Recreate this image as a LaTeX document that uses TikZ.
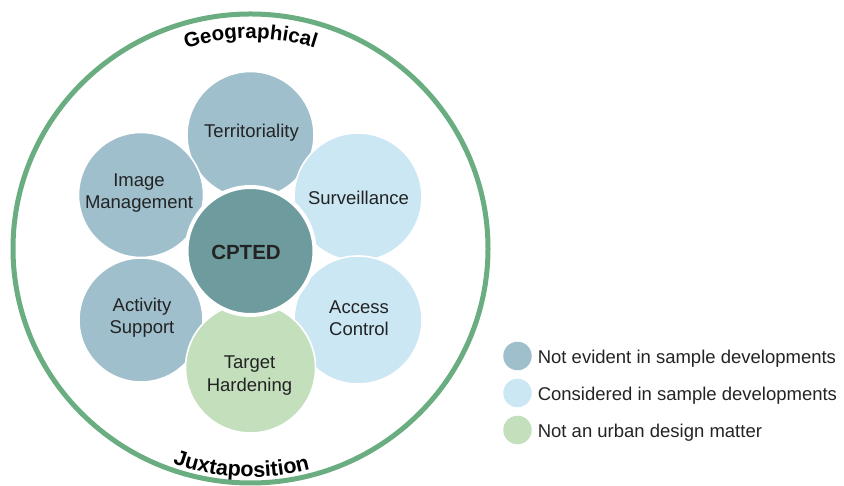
\documentclass[tikz,border=0pt]{standalone}
\usepackage{fontspec}
\setmainfont{Liberation Sans}
\usetikzlibrary{decorations.text}

\definecolor{ringgreen}{HTML}{6AAD80}
\definecolor{notevident}{HTML}{9FBFCC}
\definecolor{considered}{HTML}{CBE7F4}
\definecolor{notudm}{HTML}{C3DFBC}
\definecolor{cptedfill}{HTML}{6E9C9E}
\definecolor{inktext}{HTML}{232323}

\newcommand\arcfont{\fontsize{20.5}{24}\selectfont\bfseries}
\newcommand\arcfontlow{\fontsize{21.5}{25}\selectfont\bfseries}

\tikzset{
  petal/.style={circle, draw=white, line width=1.6pt, inner sep=0pt, minimum size=#1},
  petaltext/.style={text=inktext, align=center, inner sep=0pt,
    font=\fontsize{18.5}{22.3}\selectfont},
  hub/.style={circle, draw=white, line width=4pt, fill=cptedfill, inner sep=0pt, minimum size=128pt},
  hubtext/.style={text=inktext, inner sep=0pt, font=\fontsize{20.5}{24}\selectfont\bfseries},
  keydot/.style={circle, inner sep=0pt, minimum size=28.5pt},
  keytext/.style={text=inktext, inner sep=0pt, anchor=base west,
    font=\fontsize{18.5}{22}\selectfont},
  ringline/.style={draw=ringgreen, line width=5pt},
}

\begin{document}
\begin{tikzpicture}[x=1pt, y=1pt]
  \useasboundingbox (0,0) rectangle (844,486);

  % outer ring
  \coordinate (ctr) at (250.5,237.5);
  \draw[ringline] (ctr) ellipse [x radius=237.5, y radius=234.5];

  % curved labels on the ring
  \path[decorate, decoration={text along path, text align=center,
      text={|\arcfont|Geographical}}]
    (ctr) ++(135:210) arc[start angle=135, end angle=45, radius=210];
  \path[decorate, decoration={text along path, text align=center,
      text={|\arcfontlow|Juxtaposition}}]
    (ctr) ++(222.6:228.5) arc[start angle=222.6, end angle=312.6, radius=228.5];

  % petals around the hub
  \node[petal=127pt, fill=notevident] (terr) at (250.5,351) {};
  \node[petal=125pt, fill=notevident] (image) at (141,291) {};
  \node[petal=128pt, fill=considered] (surv) at (358,289) {};
  \node[petal=124pt, fill=notevident] (activity) at (141,166) {};
  \node[petal=128pt, fill=considered] (access) at (358,166) {};
  \node[petal=130pt, fill=notudm] (target) at (250.5,118) {};

  % hub
  \node[hub] (cpted) at (250.5,235) {};

  % petal labels
  \node[petaltext] (terr-t) at (251.5,353.6) {Territoriality};
  \node[petaltext] (image-t) at (139,292.8) {Image\\Management};
  \node[petaltext] (surv-t) at (358.5,288.6) {Surveillance};
  \node[petaltext] (activity-t) at (142,168.5) {Activity\\Support};
  \node[petaltext] (access-t) at (359,168.1) {Access\\Control};
  \node[petaltext] (target-t) at (249.5,110.5) {Target\\Hardening};
  \node[hubtext] (cpted-t) at (246,233.4) {CPTED};

  % legend
  \node[keydot, fill=notevident] (key1) at (517.5,130) {};
  \node[keydot, fill=considered] (key2) at (517.5,93) {};
  \node[keydot, fill=notudm] (key3) at (517.5,56) {};
  \node[keytext] (key1-t) at (537.6,122.7) {Not evident in sample developments};
  \node[keytext] (key2-t) at (537.6,85) {Considered in sample developments};
  \node[keytext] (key3-t) at (537.6,48.7) {Not an urban design matter};
\end{tikzpicture}
\end{document}
